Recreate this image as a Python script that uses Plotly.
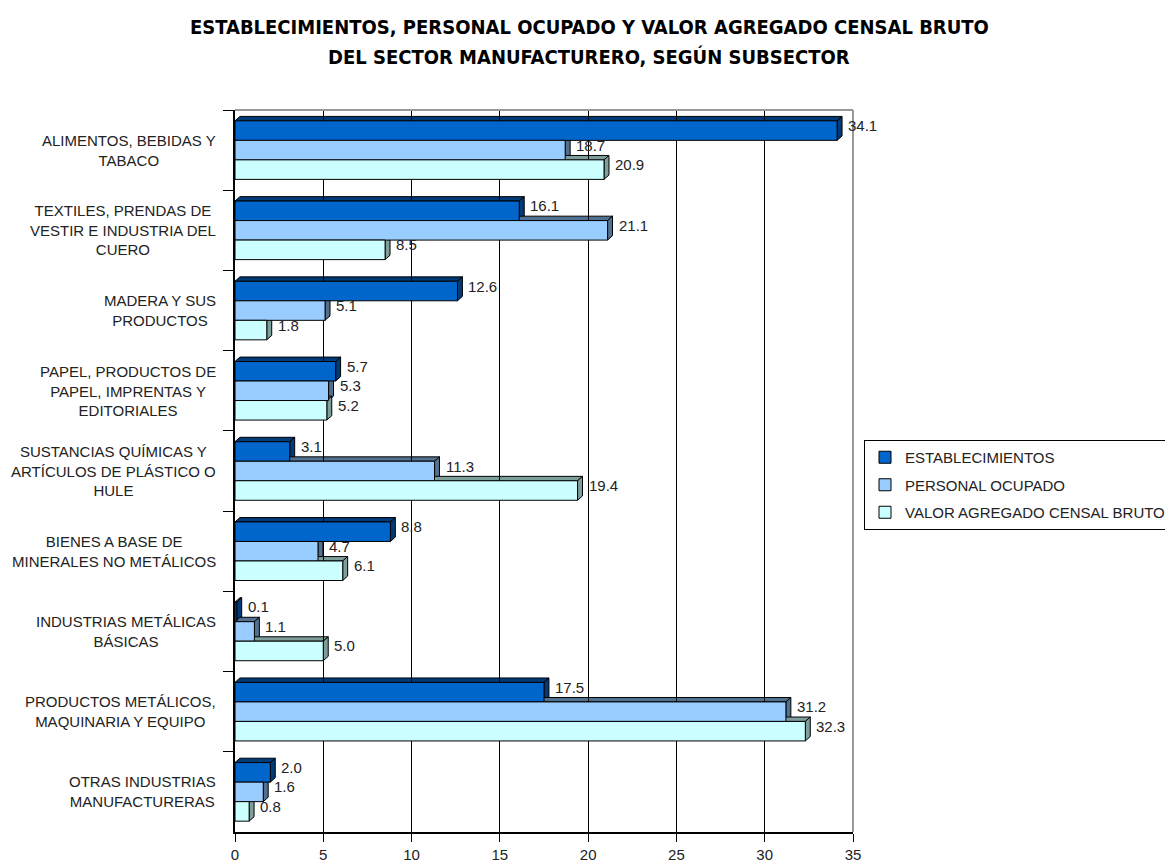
import plotly.graph_objects as go

subsectores = [
    "ALIMENTOS, BEBIDAS Y<br>TABACO",
    "TEXTILES, PRENDAS DE<br>VESTIR E INDUSTRIA DEL<br>CUERO",
    "MADERA Y SUS<br>PRODUCTOS",
    "PAPEL, PRODUCTOS DE<br>PAPEL, IMPRENTAS Y<br>EDITORIALES",
    "SUSTANCIAS QUÍMICAS Y<br>ARTÍCULOS DE PLÁSTICO O<br>HULE",
    "BIENES A BASE DE<br>MINERALES NO METÁLICOS",
    "INDUSTRIAS METÁLICAS<br>BÁSICAS",
    "PRODUCTOS METÁLICOS,<br>MAQUINARIA Y EQUIPO",
    "OTRAS INDUSTRIAS<br>MANUFACTURERAS",
]
establecimientos = [34.1, 16.1, 12.6, 5.7, 3.1, 8.8, 0.1, 17.5, 2.0]
personal_ocupado = [18.7, 21.1, 5.1, 5.3, 11.3, 4.7, 1.1, 31.2, 1.6]
valor_agregado = [20.9, 8.5, 1.8, 5.2, 19.4, 6.1, 5.0, 32.3, 0.8]
series_names = ["ESTABLECIMIENTOS", "PERSONAL OCUPADO", "VALOR AGREGADO CENSAL BRUTO"]
x_ticks = [0, 5, 10, 15, 20, 25, 30, 35]

series = [establecimientos, personal_ocupado, valor_agregado]
colors = ["#0066CC", "#99CCFF", "#CCFFFF"]
side_colors = ["#003B78", "#52708F", "#7E9E9C"]
FONT = "Liberation Sans, Arial, sans-serif"
TFONT = "DejaVu Sans Condensed, Liberation Sans Narrow, Arial Narrow, sans-serif"

W, H = 1165, 866
ML, MR, MT, MB = 235, 312, 110, 34

fig = go.Figure()
for name, vals, col in zip(series_names, series, colors):
    fig.add_trace(go.Bar(
        y=subsectores, x=vals, name=name, orientation="h",
        marker=dict(color=col, line=dict(color="black", width=1)),
        legendgroup=name, hoverinfo="x+name",
    ))

bargap = 0.27
w = (1 - bargap) / 3
dx, dy = 0.28, 0.055
shapes = []
annotations = []
for k, (vals, sc) in enumerate(zip(series, side_colors)):
    for i, v in enumerate(vals):
        c = i + (k - 1) * w
        top, bot = c - w / 2, c + w / 2
        shapes.append(dict(type="path", xref="x", yref="y", layer="below",
                           path=f"M0,{top} L{dx},{top-dy} L{v+dx},{top-dy} L{v},{top} Z",
                           fillcolor=sc, line=dict(color="black", width=1)))
        shapes.append(dict(type="path", xref="x", yref="y", layer="below",
                           path=f"M{v},{top} L{v+dx},{top-dy} L{v+dx},{bot-dy} L{v},{bot} Z",
                           fillcolor=sc, line=dict(color="black", width=1)))
        annotations.append(dict(x=v, y=c, xref="x", yref="y", xanchor="left", yanchor="middle",
                                xshift=9, yshift=5, text=f"{v:.1f}", showarrow=False,
                                font=dict(family=FONT, size=15, color="#222")))
# back-wall frame (top and right edges) in grey
shapes.append(dict(type="line", xref="paper", yref="paper", x0=0, x1=1, y0=1, y1=1,
                   line=dict(color="#999", width=2), layer="above"))
shapes.append(dict(type="line", xref="paper", yref="paper", x0=1, x1=1, y0=0, y1=1,
                   line=dict(color="#999", width=2), layer="above"))

for s in subsectores:
    annotations.append(dict(x=0, xref="paper", y=s, yref="y", xanchor="right", xshift=-17,
                            text=s, showarrow=False, align="center",
                            font=dict(family=FONT, size=15, color="#222")))
titles = [("<b>ESTABLECIMIENTOS, PERSONAL OCUPADO Y VALOR AGREGADO CENSAL BRUTO</b>", 27),
          ("<b>DEL SECTOR MANUFACTURERO, SEGÚN SUBSECTOR</b>", 57)]
for txt, ypix in titles:
    annotations.append(dict(x=(589 - ML) / (W - ML - MR), y=(H - MB - ypix) / (H - MT - MB),
                            xref="paper", yref="paper", yanchor="middle", text=txt,
                            showarrow=False, font=dict(family=TFONT, size=20, color="black")))

fig.update_layout(
    width=W, height=H,
    margin=dict(l=ML, r=MR, t=MT, b=MB, autoexpand=False),
    barmode="group", bargap=bargap, bargroupgap=0,
    plot_bgcolor="white", paper_bgcolor="white",
    font=dict(family=FONT, size=15, color="#222"),
    xaxis=dict(range=[0, 35], tickvals=x_ticks, showgrid=True, gridcolor="black", gridwidth=1,
               showline=True, linecolor="black", linewidth=1.5, ticks="outside", ticklen=8,
               tickcolor="black", zeroline=False, tickfont=dict(size=15)),
    yaxis=dict(autorange="reversed", showticklabels=False, showline=True, linecolor="black",
               linewidth=1.5, ticks="outside", tickson="boundaries", ticklen=10, tickcolor="black",
               showgrid=False),
    legend=dict(x=(864 - ML) / (W - ML - MR), y=(H - MB - 485) / (H - MT - MB),
                xanchor="left", yanchor="middle", bordercolor="black",
                borderwidth=1, bgcolor="white", font=dict(family=FONT, size=15, color="#222"),
                traceorder="grouped", tracegroupgap=5, itemwidth=30),
    shapes=shapes, annotations=annotations,
)
fig.write_html("out.html")
